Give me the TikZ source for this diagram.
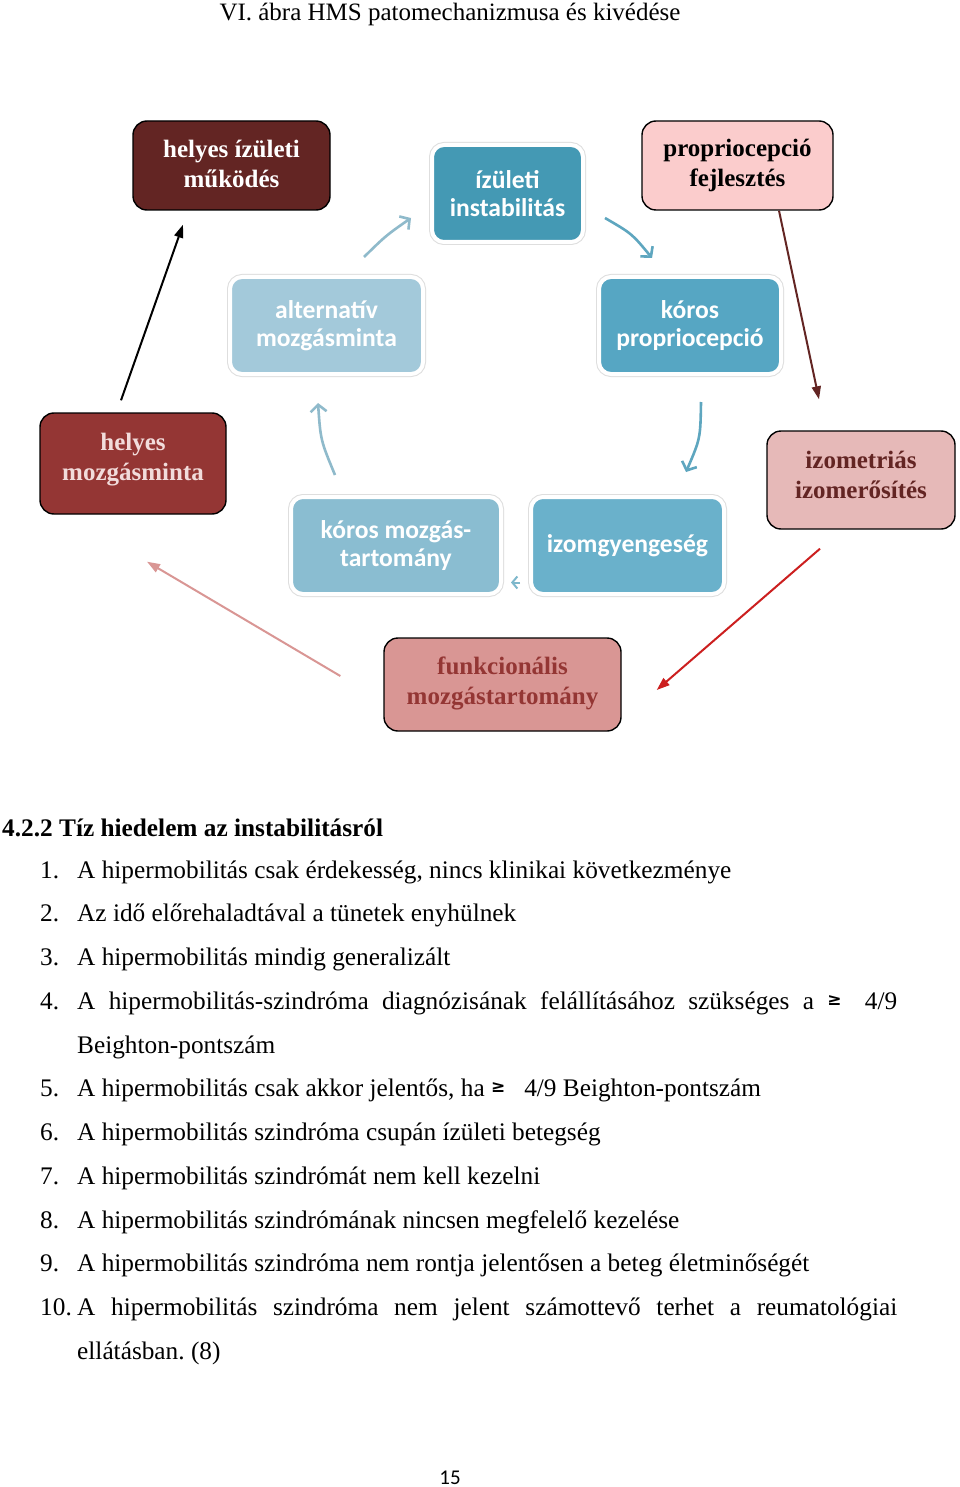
\documentclass[tikz,border=0pt]{standalone}
\usepackage{fontspec}
\setmainfont{Liberation Serif}
\newfontfamily\calibri{Carlito}
\newfontfamily\dejavu{DejaVu Sans}
\usetikzlibrary{arrows.meta,calc}
\definecolor{cMaroonD}{HTML}{632523}
\definecolor{cMaroon}{HTML}{943634}
\definecolor{cPinkL}{HTML}{FBCCCC}
\definecolor{cPink}{HTML}{E6B9B8}
\definecolor{cPinkM}{HTML}{D99694}
\definecolor{cPinkText}{HTML}{F2DCDB}
\definecolor{cTeal}{HTML}{4499B4}
\definecolor{cTealB}{HTML}{56A6C3}
\definecolor{cBlueL}{HTML}{A3C9DA}
\definecolor{cBlueM}{HTML}{8ABDD1}
\definecolor{cBlueB}{HTML}{6AB1CB}
\definecolor{cArrL}{HTML}{8FBACB}
\definecolor{cArrD}{HTML}{5EA6BF}
\definecolor{cRedArr}{HTML}{CC1F1F}
\newcommand\gesym{\raisebox{4pt}{\dejavu\bfseries\fontsize{17}{17}\selectfont ≥}}
\newcommand\upbox[2]{\raisebox{#1}[\height][\depth]{\begin{tabular}{@{}c@{}}#2\end{tabular}}}
\frenchspacing
\begin{document}
\begin{tikzpicture}[x=1pt,y=-1pt,
  redbox/.style={rectangle, rounded corners=14pt, draw=black, line width=1.4pt,
    align=center, inner sep=0pt, font=\fontsize{25}{30}\selectfont\bfseries},
  bluebox/.style={rectangle, rounded corners=12pt, preaction={draw=black!13, line width=6pt},
    draw=white, line width=4pt, align=center, inner sep=0pt, text=white,
    font=\calibri\bfseries\fontsize{25.6}{27.5}\selectfont},
  body/.style={anchor=base west, inner sep=0pt, font=\fontsize{25.3}{30}\selectfont},
  solidarr/.style={line width=2pt, -{Triangle[length=13pt,width=9pt]}},
  chev/.style={line width=2.6pt, -{Straight Barb[length=7pt,width=16pt]}}
]
\useasboundingbox[fill=white] (0,0) rectangle (960,1487);

% title
\node[anchor=base, inner sep=0pt, font=\fontsize{25}{30}\selectfont] (title) at (450,21)
  {VI. ábra HMS patomechanizmusa és kivédése};

% boxes
\node[redbox, fill=cMaroonD, text=white, minimum width=197pt, minimum height=89pt] (hiz) at (231.5,165.5)
  {\upbox{-1pt}{helyes ízületi\\működés}};
\node[bluebox, fill=cTeal, minimum width=151pt, minimum height=97pt] (inst) at (507.5,193.5)
  {ízületi\\instabilitás};
\node[redbox, fill=cPinkL, text=black, minimum width=191pt, minimum height=89pt] (pf) at (737.5,165.5)
  {propriocepció\\fejlesztés};
\node[bluebox, fill=cBlueL, minimum width=193pt, minimum height=97pt] (alt) at (326.5,325.5)
  {alternatív\\mozgásminta};
\node[bluebox, fill=cTealB, minimum width=182pt, minimum height=97pt] (kp) at (690,325.5)
  {kóros\\propriocepció};
\node[redbox, fill=cMaroon, text=cPinkText, minimum width=186pt, minimum height=101pt] (hm) at (133,463.5)
  {\upbox{4pt}{helyes\\mozgásminta}};
\node[redbox, fill=cPink, text=cMaroonD, minimum width=188pt, minimum height=98pt] (izo) at (861,480)
  {\upbox{3pt}{izometriás\\izomerősítés}};
\node[bluebox, fill=cBlueM, minimum width=210pt, minimum height=97pt] (km) at (396,545.5)
  {kóros mozgás-\\tartomány};
\node[bluebox, fill=cBlueB, minimum width=193pt, minimum height=97pt] (izg) at (627.5,545.5)
  {\raisebox{-2pt}{izomgyengeség}};
\node[redbox, fill=cPinkM, text=cMaroon, minimum width=237pt, minimum height=93pt] (fm) at (502.5,684.5)
  {\upbox{1.5pt}{funkcionális\\mozgástartomány}};

% cycle arrows
\draw[chev, cArrL] ([xshift=37.5pt,yshift=18pt]alt.north) .. controls (386,235.5) ..
  ([xshift=-19pt,yshift=-24.5pt]inst.west);
\draw[chev, cArrD] ([xshift=20pt,yshift=-24.5pt]inst.east) .. controls (632,233.7) ..
  ([xshift=-38pt,yshift=17pt]kp.north);
\draw[chev, cArrD] ([xshift=11pt,yshift=-26pt]kp.south) .. controls (700.4,438.4) ..
  ([xshift=58.5pt,yshift=23pt]izg.north);
\draw[line width=2pt, cArrD!80!white, -{Straight Barb[length=5pt,width=12pt]}]
  ([xshift=-9pt,yshift=-37pt]izg.west) -- ([xshift=8pt,yshift=-37pt]km.east);
\draw[chev, cArrL] ([xshift=-61pt,yshift=20pt]km.north) .. controls (320.6,440.3) ..
  ([xshift=-8.5pt,yshift=-27pt]alt.south);

% other arrows
\draw[solidarr, black] ([xshift=-12pt,yshift=12pt]hm.north) -- ([xshift=-48.5pt,yshift=-14pt]hiz.south);
\draw[solidarr, cMaroonD] ([xshift=41.5pt]pf.south) -- ([xshift=-42pt,yshift=31pt]izo.north);
\draw[solidarr, cRedArr] ([xshift=-41pt,yshift=-19pt]izo.south) -- ([xshift=35pt,yshift=-5.5pt]fm.east);
\draw[solidarr, cPinkM] ([xshift=-43pt,yshift=8.5pt]fm.west) -- ([xshift=14pt,yshift=-47pt]hm.south);

% text section
\node[body, font=\fontsize{25.3}{30}\selectfont\bfseries] (head) at (2,836) {4.2.2 Tíz hiedelem az instabilitásról};

\node[body] (n1) at (40,878) {1.};
\node[body] (t1) at (77,878) {A hipermobilitás csak érdekesség, nincs klinikai következménye};
\node[body] (n2) at (40,921.75) {2.};
\node[body] (t2) at (77,921.75) {Az idő előrehaladtával a tünetek enyhülnek};
\node[body] (n3) at (40,965.5) {3.};
\node[body] (t3) at (77,965.5) {A hipermobilitás mindig generalizált};
\node[body] (n4) at (40,1009.25) {4.};
\node[body] (t4) at (77,1009.25) {\makebox[820pt][s]{A hipermobilitás-szindróma diagnózisának felállításához szükséges a \gesym\hspace{10pt} 4/9}};
\node[body] (t4b) at (77,1053) {Beighton-pontszám};
\node[body] (n5) at (40,1096.75) {5.};
\node[body] (t5) at (77,1096.75) {A hipermobilitás csak akkor jelentős, ha \gesym\hspace{19pt}4/9 Beighton-pontszám};
\node[body] (n6) at (40,1140.5) {6.};
\node[body] (t6) at (77,1140.5) {A hipermobilitás szindróma csupán ízületi betegség};
\node[body] (n7) at (40,1184.25) {7.};
\node[body] (t7) at (77,1184.25) {A hipermobilitás szindrómát nem kell kezelni};
\node[body] (n8) at (40,1228) {8.};
\node[body] (t8) at (77,1228) {A hipermobilitás szindrómának nincsen megfelelő kezelése};
\node[body] (n9) at (40,1271.75) {9.};
\node[body] (t9) at (77,1271.75) {A hipermobilitás szindróma nem rontja jelentősen a beteg életminőségét};
\node[body] (n10) at (40,1315.5) {10.};
\node[body] (t10) at (77,1315.5) {\makebox[820pt][s]{A hipermobilitás szindróma nem jelent számottevő terhet a reumatológiai}};
\node[body] (t10b) at (77,1359.25) {ellátásban. (8)};

% page number
\node[anchor=base, inner sep=0pt, font=\calibri\fontsize{21}{24}\selectfont] (pg) at (450,1484) {15};
\end{tikzpicture}
\end{document}
